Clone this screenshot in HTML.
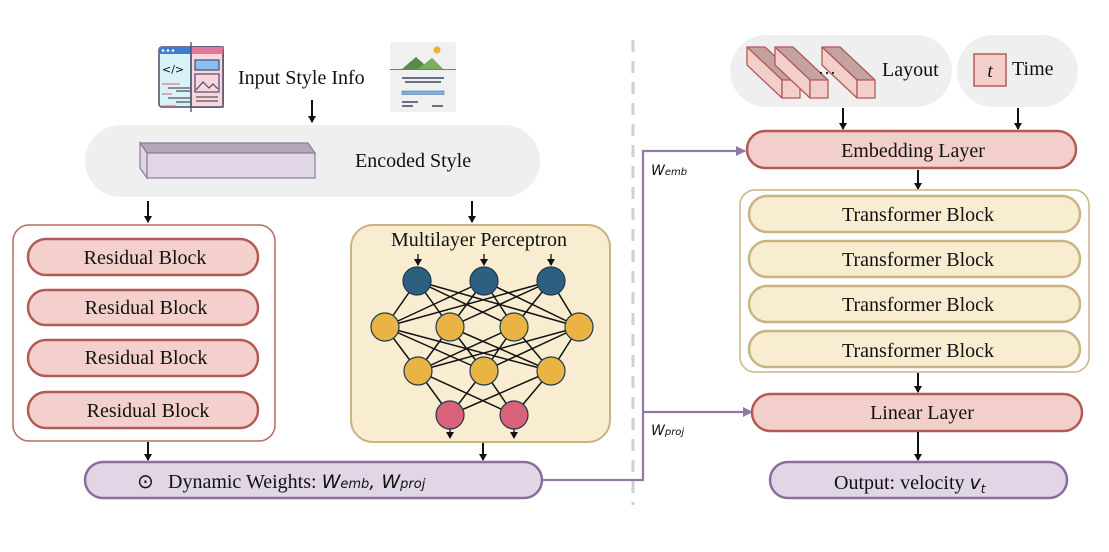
<!DOCTYPE html>
<html><head><meta charset="utf-8"><style>
html,body{margin:0;padding:0;background:#fff;}
svg{display:block;}
text{font-family:"Liberation Serif",serif;fill:#111;}
.s{font-family:"DejaVu Sans","Liberation Sans",sans-serif;font-style:italic;}
</style></head><body>
<svg width="1109" height="552" viewBox="0 0 1109 552" xmlns="http://www.w3.org/2000/svg">
<defs>
<marker id="a" markerWidth="8" markerHeight="8" refX="6" refY="4" orient="auto" markerUnits="userSpaceOnUse"><path d="M0,0 L7,4 L0,8 Z" fill="#111"/></marker>
<marker id="p" markerWidth="10" markerHeight="10" refX="9" refY="5" orient="auto" markerUnits="userSpaceOnUse"><path d="M0,0 L10,5 L0,10 Z" fill="#9277a8"/></marker>
</defs>

<line x1="633" y1="40" x2="633" y2="505" stroke="#d0d0d0" stroke-width="3" stroke-dasharray="12,9"/>

<g>
<rect x="159" y="47" width="64" height="60" rx="3" fill="#d8f2f8" stroke="#4a4a6a" stroke-width="1.5"/>
<rect x="191" y="47" width="32" height="60" fill="#f8d6de" stroke="#4a4a6a" stroke-width="1.5"/>
<rect x="159" y="47" width="32" height="7" fill="#3a7fd0"/>
<rect x="191" y="47" width="32" height="7" fill="#e07896"/>
<circle cx="163" cy="50.5" r="1.3" fill="#fff"/><circle cx="168" cy="50.5" r="1.3" fill="#fff"/><circle cx="173" cy="50.5" r="1.3" fill="#fff"/>
<line x1="191" y1="42" x2="191" y2="112" stroke="#4a4a6a" stroke-width="1.3"/>
<text x="162" y="73" font-size="11" style="font-family:'DejaVu Sans',sans-serif" fill="#333">&lt;/&gt;</text>
<g stroke="#e07896" stroke-width="1.3"><line x1="162" y1="84" x2="180" y2="84"/><line x1="162" y1="94" x2="172" y2="94"/><line x1="162" y1="106" x2="176" y2="106"/></g>
<g stroke="#555" stroke-width="1.3"><line x1="168" y1="88" x2="190" y2="88"/><line x1="176" y1="91" x2="190" y2="91"/><line x1="168" y1="98" x2="190" y2="98"/><line x1="176" y1="102" x2="190" y2="102"/></g>
<rect x="195" y="60" width="24" height="10" fill="#86c2ef" stroke="#4a4a6a" stroke-width="1.2"/>
<rect x="195" y="74" width="24" height="18" fill="#f8d6de" stroke="#4a4a6a" stroke-width="1.2"/>
<path d="M196,90 L203,82 L209,88 L213,84 L218,89" fill="none" stroke="#4a4a6a" stroke-width="1.2"/>
<g stroke="#555" stroke-width="1.3"><line x1="196" y1="97" x2="218" y2="97"/><line x1="196" y1="101" x2="218" y2="101"/></g>
</g>
<text x="238" y="84" font-size="20">Input Style Info</text>

<g>
<rect x="390" y="42" width="66" height="70" rx="3" fill="#f0f0f0"/>
<path d="M402,69 L416,57 L425,65 L432,58 L443,69 Z" fill="#5a8a4a"/>
<path d="M418,69 L432,58 L443,69 Z" fill="#78ad5e"/>
<circle cx="437" cy="50" r="3.5" fill="#f0b030"/>
<line x1="390" y1="69.5" x2="456" y2="69.5" stroke="#778" stroke-width="1"/>
<g stroke="#3a4560" stroke-width="1.5"><line x1="402" y1="78" x2="444" y2="78"/><line x1="405" y1="82" x2="441" y2="82"/></g>
<rect x="402" y="91" width="42" height="3.5" fill="#7ab0e8" stroke="#5a7aa0" stroke-width="0.6"/>
<g stroke="#3a4560" stroke-width="1.5"><line x1="402" y1="102" x2="418" y2="102"/><line x1="402" y1="106" x2="413" y2="106"/><line x1="432" y1="106" x2="443" y2="106"/></g>
</g>
<line x1="312" y1="100" x2="312" y2="122" stroke="#111" stroke-width="2" marker-end="url(#a)"/>

<rect x="85" y="125" width="455" height="72" rx="36" fill="#efefef"/>
<path d="M140,143 L308,143 L315,153 L147,153 Z" fill="#b3a8b6" stroke="#8f7a9e" stroke-width="1.2"/>
<path d="M140,143 L147,153 L147,178 L140,168 Z" fill="#e0d6e6" stroke="#8f7a9e" stroke-width="1.2"/>
<rect x="147" y="153" width="168" height="25" fill="#e0d6e6" stroke="#8f7a9e" stroke-width="1.2"/>
<text x="355" y="167" font-size="20">Encoded Style</text>

<line x1="148" y1="201" x2="148" y2="222" stroke="#111" stroke-width="2" marker-end="url(#a)"/>
<line x1="472" y1="201" x2="472" y2="222" stroke="#111" stroke-width="2" marker-end="url(#a)"/>

<rect x="13" y="225" width="262" height="216" rx="16" fill="#fff" stroke="#b86a66" stroke-width="1.5"/>
<g fill="#f3d0cc" stroke="#b35a55" stroke-width="2.5">
<rect x="28" y="239" width="230" height="36" rx="18"/>
<rect x="28" y="290" width="230" height="35" rx="17.5"/>
<rect x="28" y="340" width="230" height="36" rx="18"/>
<rect x="28" y="392" width="230" height="36" rx="18"/>
</g>
<g font-size="20" text-anchor="middle">
<text x="145" y="264">Residual Block</text>
<text x="146" y="314">Residual Block</text>
<text x="146" y="364">Residual Block</text>
<text x="148" y="417">Residual Block</text>
</g>

<rect x="351" y="225" width="259" height="217" rx="22" fill="#f8edd0" stroke="#c9b483" stroke-width="2"/>
<text x="479" y="246" font-size="20" text-anchor="middle">Multilayer Perceptron</text>
<g stroke="#111" stroke-width="1.5">
<line x1="417" y1="281" x2="385" y2="327"/><line x1="417" y1="281" x2="450" y2="327"/><line x1="417" y1="281" x2="514" y2="327"/><line x1="417" y1="281" x2="579" y2="327"/>
<line x1="484" y1="281" x2="385" y2="327"/><line x1="484" y1="281" x2="450" y2="327"/><line x1="484" y1="281" x2="514" y2="327"/><line x1="484" y1="281" x2="579" y2="327"/>
<line x1="551" y1="281" x2="385" y2="327"/><line x1="551" y1="281" x2="450" y2="327"/><line x1="551" y1="281" x2="514" y2="327"/><line x1="551" y1="281" x2="579" y2="327"/>
<line x1="385" y1="327" x2="418" y2="371"/><line x1="385" y1="327" x2="484" y2="371"/><line x1="385" y1="327" x2="551" y2="371"/>
<line x1="450" y1="327" x2="418" y2="371"/><line x1="450" y1="327" x2="484" y2="371"/><line x1="450" y1="327" x2="551" y2="371"/>
<line x1="514" y1="327" x2="418" y2="371"/><line x1="514" y1="327" x2="484" y2="371"/><line x1="514" y1="327" x2="551" y2="371"/>
<line x1="579" y1="327" x2="418" y2="371"/><line x1="579" y1="327" x2="484" y2="371"/><line x1="579" y1="327" x2="551" y2="371"/>
<line x1="418" y1="371" x2="450" y2="415"/><line x1="418" y1="371" x2="514" y2="415"/>
<line x1="484" y1="371" x2="450" y2="415"/><line x1="484" y1="371" x2="514" y2="415"/>
<line x1="551" y1="371" x2="450" y2="415"/><line x1="551" y1="371" x2="514" y2="415"/>
</g>
<g stroke="#111" stroke-width="1.3">
<line x1="418" y1="254" x2="418" y2="265" marker-end="url(#a)"/><line x1="484" y1="254" x2="484" y2="265" marker-end="url(#a)"/><line x1="551" y1="254" x2="551" y2="265" marker-end="url(#a)"/>
<line x1="450" y1="429" x2="450" y2="438" marker-end="url(#a)"/><line x1="514" y1="429" x2="514" y2="438" marker-end="url(#a)"/>
</g>
<g stroke="#1c3a50" stroke-width="1.2">
<g fill="#2d5f80"><circle cx="417" cy="281" r="14"/><circle cx="484" cy="281" r="14"/><circle cx="551" cy="281" r="14"/></g>
<g fill="#e9b443"><circle cx="385" cy="327" r="14"/><circle cx="450" cy="327" r="14"/><circle cx="514" cy="327" r="14"/><circle cx="579" cy="327" r="14"/>
<circle cx="418" cy="371" r="14"/><circle cx="484" cy="371" r="14"/><circle cx="551" cy="371" r="14"/></g>
<g fill="#d9627a"><circle cx="450" cy="415" r="14"/><circle cx="514" cy="415" r="14"/></g>
</g>

<line x1="148" y1="442" x2="148" y2="460" stroke="#111" stroke-width="2" marker-end="url(#a)"/>
<line x1="483" y1="443" x2="483" y2="460" stroke="#111" stroke-width="2" marker-end="url(#a)"/>

<rect x="85" y="462" width="457" height="36" rx="18" fill="#e0d6e6" stroke="#8c6d9c" stroke-width="2.5"/>
<text x="137" y="488" font-size="20" style="font-family:'DejaVu Sans',sans-serif">⊙</text>
<text x="168" y="488" font-size="20">Dynamic Weights: <tspan class="s" font-size="19">W</tspan><tspan class="s" font-size="13">emb</tspan><tspan class="s" font-size="19">, W</tspan><tspan class="s" font-size="13">proj</tspan></text>

<polyline points="542,480 643,480 643,151 745,151" fill="none" stroke="#9277a8" stroke-width="2.2" marker-end="url(#p)"/>
<line x1="643" y1="412" x2="752" y2="412" stroke="#9277a8" stroke-width="2.2" marker-end="url(#p)"/>
<text x="651" y="175" font-size="14" class="s" fill="#4a3a5a">W<tspan font-size="10">emb</tspan></text>
<text x="651" y="435" font-size="14" class="s" fill="#4a3a5a">W<tspan font-size="10">proj</tspan></text>

<rect x="730" y="35" width="222" height="72" rx="36" fill="#efefef"/>
<rect x="957" y="35" width="121" height="72" rx="36" fill="#efefef"/>
<g stroke="#b35a55" stroke-width="1.3" stroke-linejoin="round">
<path d="M747,47 L765,47 L800,80 L782,80 Z" fill="#c4a2a0"/>
<path d="M747,47 L782,80 L782,98 L747,65 Z" fill="#f3cfcb"/>
<rect x="782" y="80" width="18" height="18" fill="#f3cfcb"/>
<path d="M775,47 L793,47 L828,80 L810,80 Z" fill="#c4a2a0"/>
<path d="M775,47 L810,80 L810,98 L775,65 Z" fill="#f3cfcb"/>
<rect x="810" y="80" width="18" height="18" fill="#f3cfcb"/>
<path d="M822,47 L840,47 L875,80 L857,80 Z" fill="#c4a2a0"/>
<path d="M822,47 L857,80 L857,98 L822,65 Z" fill="#f3cfcb"/>
<rect x="857" y="80" width="18" height="18" fill="#f3cfcb"/>
</g>
<text x="818" y="74" font-size="18">…</text>
<text x="882" y="76" font-size="20">Layout</text>
<rect x="974" y="54" width="32" height="32" fill="#f3cfcb" stroke="#b35a55" stroke-width="1.5"/>
<text x="990" y="77" font-size="19" font-style="italic" text-anchor="middle">t</text>
<text x="1012" y="75" font-size="20">Time</text>
<line x1="843" y1="108" x2="843" y2="129" stroke="#111" stroke-width="2" marker-end="url(#a)"/>
<line x1="1018" y1="108" x2="1018" y2="129" stroke="#111" stroke-width="2" marker-end="url(#a)"/>

<rect x="747" y="131" width="329" height="37" rx="18.5" fill="#f3cfcb" stroke="#b35a55" stroke-width="2.5"/>
<text x="913" y="157" font-size="20" text-anchor="middle">Embedding Layer</text>
<line x1="918" y1="170" x2="918" y2="189" stroke="#111" stroke-width="2" marker-end="url(#a)"/>
<rect x="740" y="190" width="349" height="182" rx="15" fill="#fff" stroke="#c9b483" stroke-width="1.5"/>
<g fill="#f8edd0" stroke="#c9b483" stroke-width="2.5">
<rect x="749" y="196" width="331" height="36" rx="18"/>
<rect x="749" y="241" width="331" height="36" rx="18"/>
<rect x="749" y="286" width="331" height="36" rx="18"/>
<rect x="749" y="331" width="331" height="36" rx="18"/>
</g>
<g font-size="20" text-anchor="middle">
<text x="918" y="221">Transformer Block</text>
<text x="918" y="266">Transformer Block</text>
<text x="918" y="311">Transformer Block</text>
<text x="918" y="357">Transformer Block</text>
</g>
<line x1="918" y1="373" x2="918" y2="392" stroke="#111" stroke-width="2" marker-end="url(#a)"/>
<rect x="752" y="394" width="330" height="37" rx="18.5" fill="#f3cfcb" stroke="#b35a55" stroke-width="2.5"/>
<text x="922" y="419" font-size="20" text-anchor="middle">Linear Layer</text>
<line x1="918" y1="432" x2="918" y2="460" stroke="#111" stroke-width="2" marker-end="url(#a)"/>
<rect x="770" y="462" width="297" height="36" rx="18" fill="#e0d6e6" stroke="#8c6d9c" stroke-width="2.5"/>
<text x="834" y="489" font-size="20">Output: velocity <tspan class="s" font-size="19">v</tspan><tspan class="s" font-size="12" dy="4">t</tspan></text>
</svg>
</body></html>
